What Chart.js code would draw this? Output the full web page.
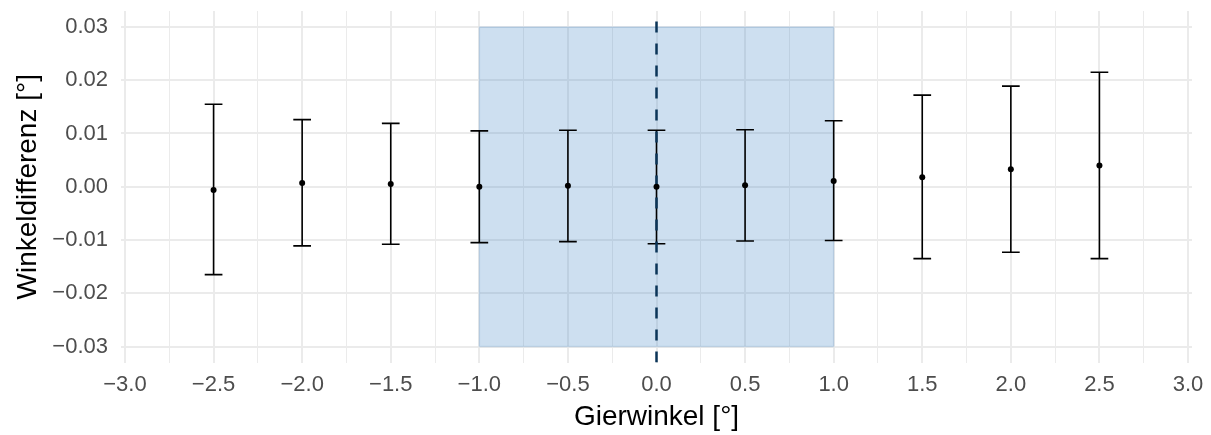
<!DOCTYPE html>
<html>
<head>
<meta charset="utf-8">
<script src="https://cdn.jsdelivr.net/npm/chart.js@4/dist/chart.umd.min.js"></script>
<style>
  html, body { margin: 0; padding: 0; background: #ffffff; }
  #wrap { width: 1211px; height: 435px; }
</style>
</head>
<body>
<div id="wrap"><canvas id="chart" width="1211" height="435"></canvas></div>
<script>
// Gierwinkel (deg) with mean angle difference and error-bar limits (deg)
const gierwinkel = [-2.5, -2.0, -1.5, -1.0, -0.5, 0.0, 0.5, 1.0, 1.5, 2.0, 2.5];
const mittelwert = [-0.0006, 0.0007, 0.0005, 0.0000, 0.0002, 0.0000, 0.0003, 0.0011, 0.0018, 0.0033, 0.0040];
const obereGrenze = [0.0155, 0.0126, 0.0119, 0.0105, 0.0106, 0.0106, 0.0107, 0.0124, 0.0172, 0.0189, 0.0215];
const untereGrenze = [-0.0165, -0.0111, -0.0108, -0.0105, -0.0103, -0.0107, -0.0102, -0.0101, -0.0135, -0.0123, -0.0135];

// Tick positions
const xTicks = [-3.0, -2.75, -2.5, -2.25, -2.0, -1.75, -1.5, -1.25, -1.0, -0.75, -0.5, -0.25, 0.0,
                0.25, 0.5, 0.75, 1.0, 1.25, 1.5, 1.75, 2.0, 2.25, 2.5, 2.75, 3.0];
const yTicks = [-0.03, -0.02, -0.01, 0.00, 0.01, 0.02, 0.03];

// Highlighted range and reference line
const bereichX = [-1.0, 1.0];
const bereichY = [-0.03, 0.03];
const referenzX = 0.0;
const fehlerbalkenBreite = 0.1;

const minus = s => s.replace('-', '\u2212');
const isMajorX = v => Math.abs(v * 2 - Math.round(v * 2)) < 1e-9;

const overlayPlugin = {
  id: 'overlay',
  beforeDatasetsDraw(chart) {
    const { ctx, chartArea, scales } = chart;
    const xs = scales.x, ys = scales.y;
    ctx.save();
    ctx.beginPath();
    ctx.rect(chartArea.left, chartArea.top, chartArea.right - chartArea.left, chartArea.bottom - chartArea.top);
    ctx.clip();

    // shaded range
    const x0 = xs.getPixelForValue(bereichX[0]), x1 = xs.getPixelForValue(bereichX[1]);
    const y0 = ys.getPixelForValue(bereichY[1]), y1 = ys.getPixelForValue(bereichY[0]);
    ctx.fillStyle = 'rgba(55,127,195,0.25)';
    ctx.fillRect(x0, y0, x1 - x0, y1 - y0);
    ctx.strokeStyle = 'rgba(55,127,195,0.15)';
    ctx.lineWidth = 1.5;
    ctx.strokeRect(x0, y0, x1 - x0, y1 - y0);

    // error bars
    ctx.strokeStyle = '#000000';
    ctx.lineWidth = 1.6;
    ctx.lineCap = 'butt';
    for (let i = 0; i < gierwinkel.length; i++) {
      const xc = xs.getPixelForValue(gierwinkel[i]);
      const xl = xs.getPixelForValue(gierwinkel[i] - fehlerbalkenBreite / 2);
      const xr = xs.getPixelForValue(gierwinkel[i] + fehlerbalkenBreite / 2);
      const yt = ys.getPixelForValue(obereGrenze[i]);
      const yb = ys.getPixelForValue(untereGrenze[i]);
      ctx.beginPath();
      ctx.moveTo(xc, yt); ctx.lineTo(xc, yb);
      ctx.moveTo(xl, yt); ctx.lineTo(xr, yt);
      ctx.moveTo(xl, yb); ctx.lineTo(xr, yb);
      ctx.stroke();
    }

    // dashed reference line
    const xr0 = xs.getPixelForValue(referenzX);
    ctx.strokeStyle = '#0b3558';
    ctx.lineWidth = 2.5;
    ctx.setLineDash([11, 11]);
    ctx.beginPath();
    ctx.moveTo(xr0, chartArea.bottom);
    ctx.lineTo(xr0, chartArea.top);
    ctx.stroke();
    ctx.restore();
  }
};

const tickFont = { family: '"Liberation Sans", Arial, sans-serif', size: 22 };
const titleFont = { family: '"Liberation Sans", Arial, sans-serif', size: 28 };

new Chart(document.getElementById('chart'), {
  type: 'scatter',
  data: {
    datasets: [{
      data: gierwinkel.map((g, i) => ({ x: g, y: mittelwert[i] })),
      pointRadius: 3,
      pointBackgroundColor: '#000000',
      pointBorderColor: '#000000',
      pointBorderWidth: 0
    }]
  },
  options: {
    responsive: false,
    devicePixelRatio: 1,
    animation: false,
    layout: { padding: { left: 0, right: 19, top: 11, bottom: 0 } },
    plugins: { legend: { display: false }, tooltip: { enabled: false } },
    scales: {
      x: {
        type: 'linear',
        min: -3.0225,
        max: 3.0225,
        afterBuildTicks: s => { s.ticks = xTicks.map(v => ({ value: v })); },
        afterFit: s => { s.height = 72.5; s.paddingLeft = 0; s.paddingRight = 0; },
        border: { display: false },
        grid: {
          drawTicks: false,
          color: '#ebebeb',
          lineWidth: c => (c.tick && isMajorX(c.tick.value)) ? 2 : 1
        },
        ticks: {
          autoSkip: false,
          maxRotation: 0,
          padding: 9,
          color: '#4d4d4d',
          font: tickFont,
          callback: v => isMajorX(v) ? minus(v.toFixed(1)) : ''
        },
        title: {
          display: true,
          text: 'Gierwinkel [°]',
          color: '#000000',
          font: titleFont,
          padding: { top: 0, bottom: 1 }
        }
      },
      y: {
        type: 'linear',
        min: -0.033,
        max: 0.033,
        afterBuildTicks: s => { s.ticks = yTicks.map(v => ({ value: v })); },
        afterFit: s => { s.width = 121; s.paddingTop = 0; s.paddingBottom = 0; },
        border: { display: false },
        grid: { drawTicks: false, color: '#ebebeb', lineWidth: 2 },
        ticks: {
          autoSkip: false,
          padding: 13,
          color: '#4d4d4d',
          font: tickFont,
          callback: v => minus(v.toFixed(2))
        },
        title: {
          display: true,
          text: 'Winkeldifferenz [°]',
          color: '#000000',
          font: titleFont,
          padding: { top: 11, bottom: 0 }
        }
      }
    }
  },
  plugins: [overlayPlugin]
});
</script>
</body>
</html>
